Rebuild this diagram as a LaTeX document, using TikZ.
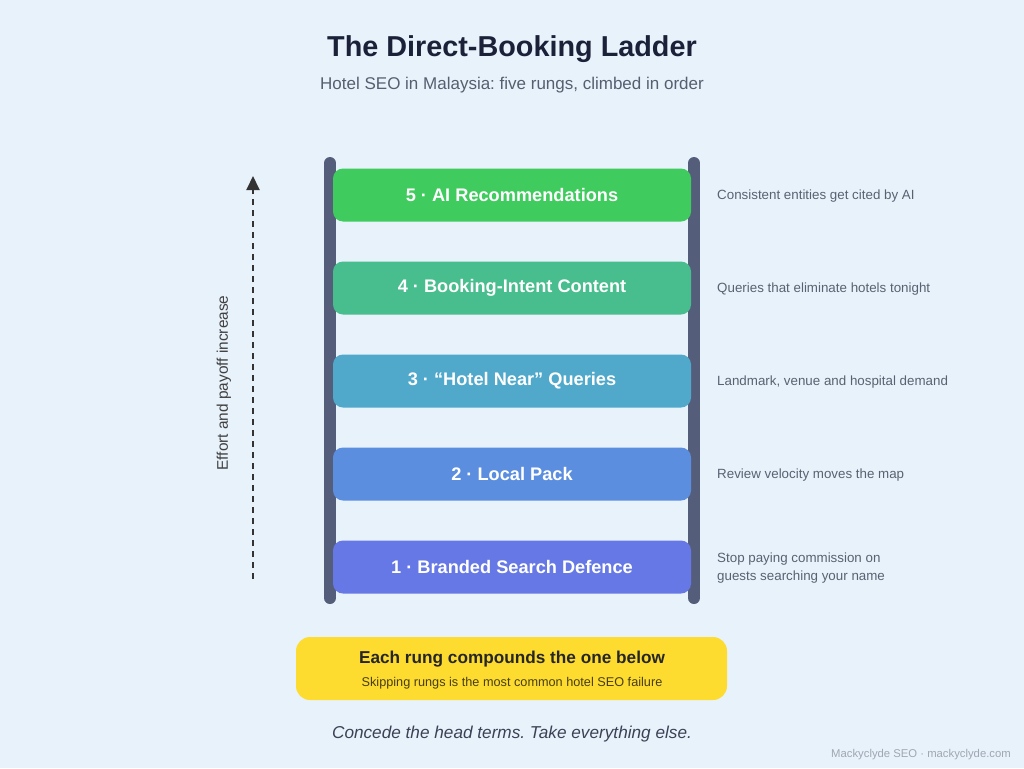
\documentclass[tikz,border=0pt]{standalone}
\usepackage{fontspec}
\setmainfont{Liberation Sans}
\usetikzlibrary{arrows.meta,positioning}
\frenchspacing
\definecolor{bgblue}{RGB}{232,242,251}
\definecolor{titlenavy}{RGB}{26,33,56}
\definecolor{subgray}{RGB}{85,95,112}
\definecolor{railslate}{RGB}{84,94,122}
\definecolor{notegray}{RGB}{88,98,114}
\definecolor{rungfive}{RGB}{63,203,93}
\definecolor{rungfour}{RGB}{72,189,141}
\definecolor{rungthree}{RGB}{80,168,202}
\definecolor{rungtwo}{RGB}{92,142,224}
\definecolor{rungone}{RGB}{101,120,230}
\definecolor{callyellow}{RGB}{253,220,47}
\definecolor{calltext}{RGB}{72,62,20}
\definecolor{footgray}{RGB}{160,166,178}
\newcommand{\fs}[1]{\fontsize{#1}{#1}\selectfont}
\tikzset{
  rung/.style={rounded corners=10pt, minimum width=358pt, minimum height=53pt,
               inner sep=0pt, text=white, font=\fs{18.2}\bfseries},
  rail/.style={railslate, line width=12pt, line cap=round},
  note/.style={anchor=west, inner sep=0pt, text=notegray, font=\fs{13.35},
               align=left},
  climb/.style={-{Triangle[length=14pt, width=13pt]}, black!80, line width=2pt,
                dash pattern=on 6pt off 5pt},
  callbox/.style={fill=callyellow, rounded corners=14pt, minimum width=431pt,
                  minimum height=63pt, inner sep=0pt},
}

\begin{document}
\begin{tikzpicture}[x=1pt, y=-1pt]
        \fill[bgblue] (0,0) rectangle (1024,768);
        \useasboundingbox (0,0) rectangle (1024,768);
        % heading
        \node[text=titlenavy, font=\fs{28.8}\bfseries] (title) at (512,49) {The Direct-Booking Ladder};
        \node[text=subgray, font=\fs{17}] (subtitle) at (512,85) {Hotel SEO in Malaysia: five rungs, climbed in order};
        % rails
        \coordinate (lrailtop) at (330,163); \coordinate (lrailbot) at (330,598);
        \coordinate (rrailtop) at (694,163); \coordinate (rrailbot) at (694,598);
        \draw[rail] (lrailtop) -- (lrailbot);
        \draw[rail] (rrailtop) -- (rrailbot);
        % rungs
        \node[rung, fill=rungfive]  (r5) at (512,195) {5 · AI Recommendations};
        \node[rung, fill=rungfour]  (r4) at (512,288) {4 · Booking-Intent Content};
        \node[rung, fill=rungthree] (r3) at (512,381) {3 · “Hotel Near” Queries};
        \node[rung, fill=rungtwo]   (r2) at (512,474) {2 · Local Pack};
        \node[rung, fill=rungone]   (r1) at (512,567) {1 · Branded Search Defence};
        % notes on the right
        \node[note] (n5) at (717,196) {Consistent entities get cited by AI};
        \node[note] (n4) at (717,289) {Queries that eliminate hotels tonight};
        \node[note] (n3) at (717,382) {Landmark, venue and hospital demand};
        \node[note] (n2) at (717,475) {Review velocity moves the map};
        \node[note, font=\fontsize{13.35}{18}\selectfont] (n1) at (717,568) {Stop paying commission on\\guests searching your name};
        % effort arrow
        \coordinate (arrbot) at (253,579);
        \coordinate (arrtop) at (253,176);
        \draw[climb] (arrbot) -- (arrtop);
        \node[rotate=90, text=black!75, font=\fs{15.4}] (effort) at (224,383) {Effort and payoff increase};
        % callout
        \node[callbox] (call) at (511.5,668.5) {};
        \node[text=black!85, font=\fs{17.2}\bfseries] (callhead) at (512,659) {Each rung compounds the one below};
        \node[text=calltext, font=\fs{12.7}] (callsub) at (512,683) {Skipping rungs is the most common hotel SEO failure};
        % closing line and footer
        \node[text=titlenavy!85, font=\fs{17.2}\itshape] (motto) at (512,734) {Concede the head terms. Take everything else.};
        \node[anchor=east, inner sep=0pt, text=footgray, font=\fs{11.3}] (footer) at (1011,755) {Mackyclyde SEO · mackyclyde.com};
      \end{tikzpicture}
\end{document}
